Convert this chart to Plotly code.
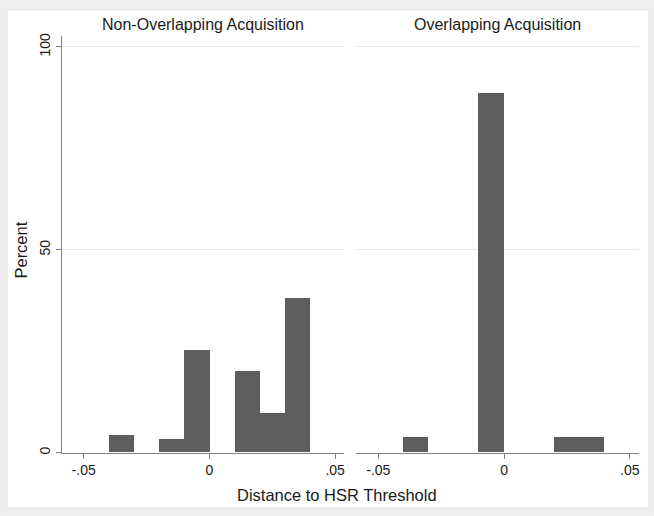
import plotly.graph_objects as go

# ---- data (percent of deals per 0.01-wide bin; bin given by its left edge) ----
left_bins = [-0.04, -0.02, -0.01, 0.01, 0.02, 0.03]
left_pct = [4.2, 3.2, 25.3, 20.0, 9.6, 38.0]

right_bins = [-0.04, -0.01, 0.02, 0.03]
right_pct = [3.85, 88.5, 3.85, 3.85]

bin_width = 0.01
panel_titles = ["Non-Overlapping Acquisition", "Overlapping Acquisition"]
x_tickvals = [-0.05, 0, 0.05]
x_ticktext = ["-.05", "0", ".05"]
y_tickvals = [0, 50, 100]
y_ticktext = ["0", "50", "100"]

W, H = 654, 516
FONT = "Liberation Sans, Arial, Helvetica, sans-serif"
TXT = "#1a1a1a"
BAR = "#5e5e5e"
GRID = "#e6eef2"
AXIS = "#808080"

def px(x):
    return x / W

def py(y):
    return 1 - y / H

fig = go.Figure()

fig.add_trace(go.Bar(x=left_bins, y=left_pct, width=bin_width, offset=0,
                     marker=dict(color=BAR, line=dict(color="#8c8c8c", width=0)),
                     xaxis="x", yaxis="y", showlegend=False, hoverinfo="skip"))
fig.add_trace(go.Bar(x=right_bins, y=right_pct, width=bin_width, offset=0,
                     marker=dict(color=BAR, line=dict(color="#8c8c8c", width=0)),
                     xaxis="x2", yaxis="y2", showlegend=False, hoverinfo="skip"))

xrange = [-0.0587, 0.0537]
yrange = [0, 102.6]
ydom = [py(454), py(33.7)]

xcommon = dict(range=xrange, tickvals=x_tickvals, ticktext=x_ticktext,
               showline=True, linecolor=AXIS, linewidth=1, ticks="outside",
               ticklen=5, tickcolor=AXIS, showgrid=False, zeroline=False,
               tickfont=dict(family=FONT, size=14, color=TXT), fixedrange=True)

fig.update_layout(
    width=W, height=H,
    margin=dict(l=0, r=0, t=0, b=0),
    paper_bgcolor="#efefef",
    plot_bgcolor="rgba(0,0,0,0)",
    font=dict(family=FONT, color=TXT),
    bargap=0,
    xaxis=dict(domain=[px(62), px(345)], anchor="y", **xcommon),
    xaxis2=dict(domain=[px(357), px(640)], anchor="y2", **xcommon),
    yaxis=dict(domain=ydom, anchor="x", range=yrange, tickvals=y_tickvals,
               ticktext=y_ticktext, tickangle=-90, showline=True, linecolor=AXIS,
               linewidth=1, ticks="outside", ticklen=5, tickcolor=AXIS,
               showgrid=True, gridcolor=GRID, gridwidth=1, zeroline=False,
               tickfont=dict(family=FONT, size=14, color=TXT), fixedrange=True),
    yaxis2=dict(domain=ydom, anchor="x2", range=yrange, tickvals=y_tickvals,
                showticklabels=False, showline=False, ticks="",
                showgrid=True, gridcolor=GRID, gridwidth=1, zeroline=False,
                fixedrange=True),
    shapes=[dict(type="rect", xref="paper", yref="paper",
                 x0=px(7), x1=px(650), y0=py(510), y1=py(7),
                 fillcolor="white", line=dict(color="#e4e4e4", width=1),
                 layer="below")],
    annotations=[
        dict(text=panel_titles[0], x=px(203.5), y=py(22), xref="paper", yref="paper",
             showarrow=False, xanchor="center", yanchor="middle",
             font=dict(family=FONT, size=16, color=TXT)),
        dict(text=panel_titles[1], x=px(498.5), y=py(22), xref="paper", yref="paper",
             showarrow=False, xanchor="center", yanchor="middle",
             font=dict(family=FONT, size=16, color=TXT)),
        dict(text="Distance to HSR Threshold", x=px(338), y=py(497), xref="paper",
             yref="paper", showarrow=False, xanchor="center", yanchor="middle",
             font=dict(family=FONT, size=16.5, color=TXT)),
        dict(text="Percent", x=px(21), y=py(249), xref="paper", yref="paper",
             showarrow=False, xanchor="center", yanchor="middle", textangle=-90,
             font=dict(family=FONT, size=16.5, color=TXT)),
    ],
)

fig.write_html("out.html", config={"displayModeBar": False},
               post_script="document.body.style.margin='0';document.body.style.overflow='hidden';")
